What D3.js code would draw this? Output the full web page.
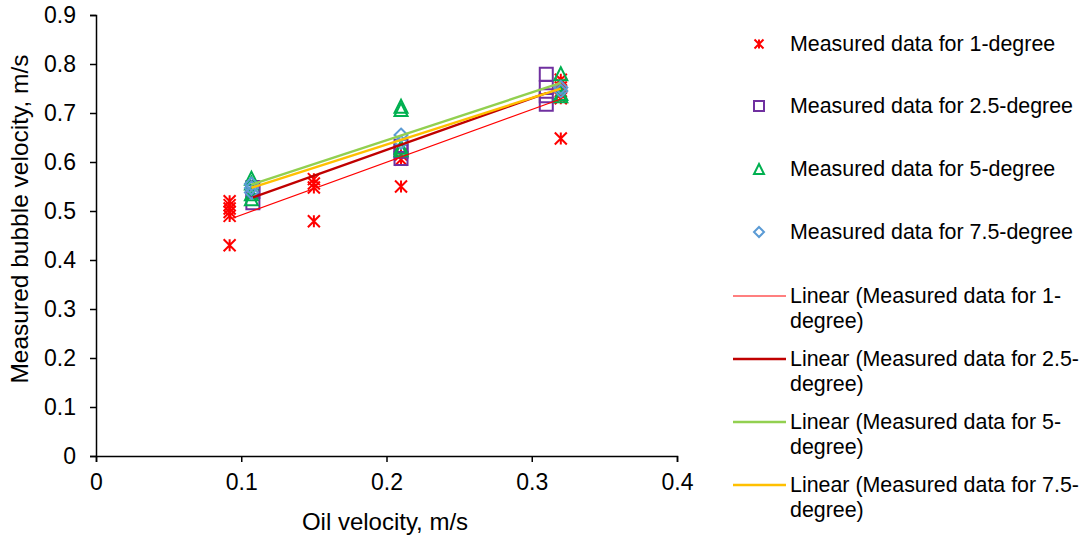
<!DOCTYPE html>
<html>
<head>
<meta charset="utf-8">
<script src="https://cdn.jsdelivr.net/npm/d3@7"></script>
<style>
  html, body { margin: 0; padding: 0; background: #fff; }
  svg { display: block; font-family: "Liberation Sans", Arial, sans-serif; }
</style>
</head>
<body>
<svg id="chart" width="1083" height="537"></svg>
<script>
// Measured bubble velocity vs oil velocity, grouped by pipe inclination
const seriesNames = ["1-degree", "2.5-degree", "5-degree", "7.5-degree"];

const oil1 = [0.092, 0.092, 0.092, 0.092, 0.092, 0.092, 0.15, 0.15, 0.15, 0.15, 0.21, 0.21, 0.21, 0.32, 0.32, 0.32, 0.32, 0.32, 0.32, 0.32];
const bub1 = [0.520, 0.512, 0.505, 0.498, 0.490, 0.430, 0.565, 0.556, 0.548, 0.479, 0.615, 0.605, 0.550, 0.768, 0.760, 0.752, 0.745, 0.738, 0.730, 0.648];

const oil2 = [0.108, 0.108, 0.108, 0.21, 0.21, 0.21, 0.31, 0.31, 0.31, 0.31];
const bub2 = [0.517, 0.540, 0.548, 0.632, 0.622, 0.607, 0.779, 0.752, 0.735, 0.718];

const oil3 = [0.107, 0.107, 0.107, 0.107, 0.21, 0.21, 0.21, 0.21, 0.32, 0.32, 0.32];
const bub3 = [0.567, 0.557, 0.535, 0.525, 0.714, 0.707, 0.630, 0.625, 0.780, 0.740, 0.735];

const oil4 = [0.107, 0.107, 0.107, 0.21, 0.21, 0.32, 0.32];
const bub4 = [0.555, 0.547, 0.538, 0.655, 0.640, 0.752, 0.745];

const xTicks = [0, 0.1, 0.2, 0.3, 0.4];
const yTicks = [0, 0.1, 0.2, 0.3, 0.4, 0.5, 0.6, 0.7, 0.8, 0.9];

const markerColors = ["#FF0000", "#7030A0", "#00B050", "#5B9BD5"];
const trendColors = ["#FF0000", "#C00000", "#92D050", "#FFC000"];
const trendWidths = [1.2, 2.4, 2.4, 2.4];
const markerShapes = ["star", "square", "triangle", "diamond"];

const series = [
  { x: oil1, y: bub1 },
  { x: oil2, y: bub2 },
  { x: oil3, y: bub3 },
  { x: oil4, y: bub4 }
];

const svg = d3.select("#chart");
const TICK_FONT = 23;
const XTITLE_FONT = 24;
const YTITLE_FONT = 24.5;
const LEGEND_FONT = 21.4;

const x = d3.scaleLinear().domain([0, 0.4]).range([96, 677]);
const y = d3.scaleLinear().domain([0, 0.9]).range([456, 15]);

// Marker path generators centred at (0,0)
function markerPath(shape, s) {
  const h = s / 2;
  switch (shape) {
    case "star":
      return `M${-h},${-h}L${h},${h}M${-h},${h}L${h},${-h}M0,${-h}L0,${h}`;
    case "square":
      return `M${-h},${-h}H${h}V${h}H${-h}Z`;
    case "triangle":
      return `M0,${-h}L${h},${h}H${-h}Z`;
    case "diamond":
      return `M0,${-h}L${h},0L0,${h}L${-h},0Z`;
  }
}

// Least-squares fit
function linearFit(xs, ys) {
  const n = xs.length;
  const mx = d3.mean(xs), my = d3.mean(ys);
  let sxy = 0, sxx = 0;
  for (let i = 0; i < n; i++) {
    sxy += (xs[i] - mx) * (ys[i] - my);
    sxx += (xs[i] - mx) ** 2;
  }
  const slope = sxy / sxx;
  return { slope, intercept: my - slope * mx, x0: d3.min(xs), x1: d3.max(xs) };
}

// Axes
const fmt = d => String(+d.toFixed(1));
const yAxis = d3.axisLeft(y).tickValues(yTicks).tickSize(6).tickPadding(14).tickFormat(fmt);
const xAxis = d3.axisBottom(x).tickValues(xTicks).tickSize(6).tickPadding(12).tickFormat(fmt);

const gy = svg.append("g").attr("transform", `translate(${x(0)},0)`).call(yAxis);
const gx = svg.append("g").attr("transform", `translate(0,${y(0)})`).call(xAxis);
[gx, gy].forEach(g => {
  g.select(".domain").attr("stroke", "#000").attr("stroke-width", 1.5);
  g.selectAll(".tick line").attr("stroke", "#000").attr("stroke-width", 1.5);
  g.selectAll(".tick text").attr("fill", "#000").style("font-size", TICK_FONT + "px")
    .style("font-family", '"Liberation Sans", Arial, sans-serif');
});

// Axis titles
svg.append("text")
  .attr("x", 385).attr("y", 530)
  .attr("text-anchor", "middle")
  .style("font-size", XTITLE_FONT + "px")
  .text("Oil velocity, m/s");

svg.append("text")
  .attr("transform", `translate(28,${219}) rotate(-90)`)
  .attr("text-anchor", "middle")
  .style("font-size", YTITLE_FONT + "px")
  .text("Measured bubble velocity, m/s");

// Markers
const plot = svg.append("g");
series.forEach((s, i) => {
  plot.append("g").selectAll("path")
    .data(s.x.map((v, j) => [v, s.y[j]]))
    .join("path")
    .attr("transform", d => `translate(${x(d[0])},${y(d[1])})`)
    .attr("d", markerPath(markerShapes[i], i === 0 ? 12 : 13))
    .attr("fill", "none")
    .attr("stroke", markerColors[i])
    .attr("stroke-width", 2);
});

// Trend lines
series.forEach((s, i) => {
  const f = linearFit(s.x, s.y);
  plot.append("line")
    .attr("x1", x(f.x0)).attr("y1", y(f.intercept + f.slope * f.x0))
    .attr("x2", x(f.x1)).attr("y2", y(f.intercept + f.slope * f.x1))
    .attr("stroke", trendColors[i])
    .attr("stroke-width", trendWidths[i]);
});

// Legend: markers
const legend = svg.append("g");
const markerRowsY = [44, 106, 169, 232];
seriesNames.forEach((name, i) => {
  legend.append("path")
    .attr("transform", `translate(759,${markerRowsY[i]})`)
    .attr("d", markerPath(markerShapes[i], i === 0 ? 9 : 10))
    .attr("fill", "none")
    .attr("stroke", markerColors[i])
    .attr("stroke-width", 2);
  legend.append("text")
    .attr("x", 790).attr("y", markerRowsY[i])
    .attr("dy", "0.35em")
    .style("font-size", LEGEND_FONT + "px")
    .text("Measured data for " + name);
});

// Legend: trend lines (label wraps onto a second line)
const lineRowsY = [296, 359, 422, 485];
seriesNames.forEach((name, i) => {
  legend.append("line")
    .attr("x1", 733).attr("x2", 786)
    .attr("y1", lineRowsY[i]).attr("y2", lineRowsY[i])
    .attr("stroke", trendColors[i])
    .attr("stroke-width", trendWidths[i]);
  const parts = name.split("-");
  const t = legend.append("text")
    .attr("x", 790).attr("y", lineRowsY[i])
    .attr("dy", "0.35em")
    .style("font-size", LEGEND_FONT + "px");
  t.append("tspan").attr("x", 790).text("Linear (Measured data for " + parts[0] + "-");
  t.append("tspan").attr("x", 790).attr("dy", 25).text(parts[1] + ")");
});
</script>
</body>
</html>
